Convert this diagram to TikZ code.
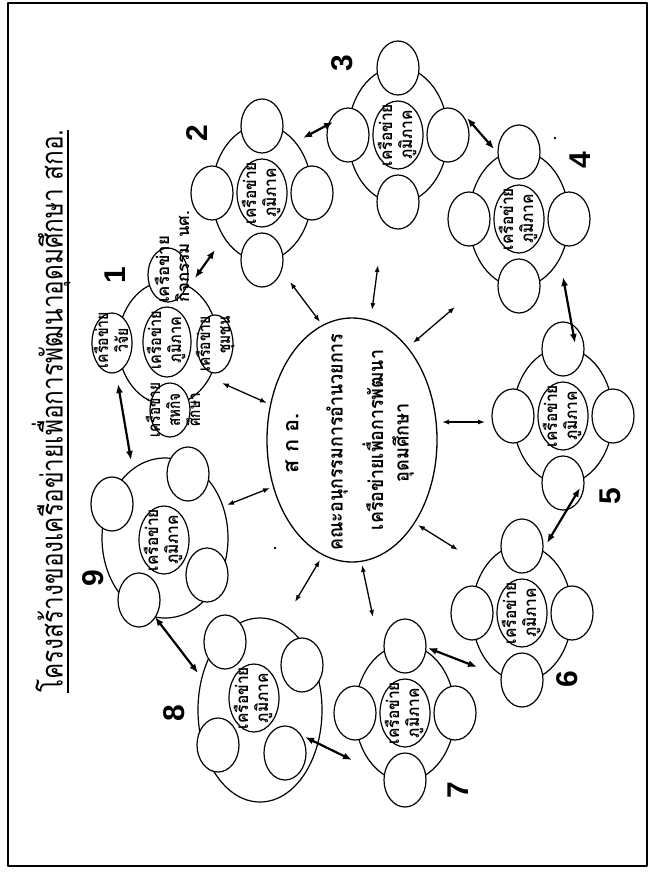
\documentclass[tikz,border=0pt]{standalone}
\usepackage{fontspec}
\usepackage{graphicx}
\newfontfamily\thaifont[Script=Thai]{Loma}
\newfontfamily\numfont{Liberation Sans}
\usetikzlibrary{arrows.meta,shapes.geometric}
\newcommand{\fitw}[2]{\resizebox{#1}{\height}{#2}}
\newcommand{\twol}[2]{\begin{tabular}{@{}c@{}}#1\\#2\end{tabular}}
\newcommand{\netlbl}{\twol{เครือข่าย}{ภูมิภาค}}
\newcommand{\stdcluster}[3]{%
  \node[outerell, minimum width=100pt, minimum height=136pt] (#1) at (#2,#3) {};
  \node[sat] (#1n) at ([yshift=67pt]#1.center) {};
  \node[sat] (#1s) at ([yshift=-67pt]#1.center) {};
  \node[sat] (#1w) at ([xshift=-50pt]#1.center) {};
  \node[sat] (#1e) at ([xshift=50pt]#1.center) {};
  \node[core] (#1c) at (#1.center) {};
  \node[rtxt] (#1t) at (#1.center) {\fitw{62pt}{\netlbl}};
}
\begin{document}
\begin{tikzpicture}[x=1pt,y=-1pt,line join=round,
  outerell/.style={draw, ellipse, line width=1.2pt, inner sep=0pt},
  sat/.style={draw, ellipse, fill=white, line width=1.2pt, inner sep=0pt, minimum width=42pt, minimum height=54pt},
  core/.style={draw, ellipse, fill=white, line width=1.2pt, inner sep=0pt, minimum width=50pt, minimum height=68pt},
  rtxt/.style={rotate=90, inner sep=0pt, font=\thaifont\bfseries\fontsize{17}{20}\selectfont},
  ctxt/.style={rotate=90, inner sep=0pt, font=\thaifont\bfseries\fontsize{20}{22}\selectfont},
  num/.style={rotate=90, inner sep=0pt, font=\numfont\bfseries\fontsize{30}{30}\selectfont},
  link/.style={line width=2.2pt, arrows={Latex[length=9pt,width=7pt]-Latex[length=9pt,width=7pt]}},
  spoke/.style={line width=1.3pt, arrows={Latex[length=7pt,width=5pt]-Latex[length=7pt,width=5pt]}}]
\useasboundingbox (0,0) rectangle (654,880);
\fill[white] (0,0) rectangle (654,880);
\draw[line width=2pt] (8,3) rectangle (647,866);

% title
\node[rotate=90, inner sep=0pt, font=\thaifont\fontsize{30}{32}\selectfont] (title) at (51,411)
  {\fitw{563pt}{โครงสร้างของเครือข่ายเพื่อการพัฒนาอุดมศึกษา สกอ.}};
\coordinate (ula) at (68,130);
\coordinate (ulb) at (68,693);
\draw[line width=1.5pt] (ula) -- (ulb);

% hub
\node[draw, ellipse, line width=1.3pt, minimum width=170pt, minimum height=244pt, inner sep=0pt] (hub) at (352,440) {};
\node[ctxt, font=\thaifont\bfseries\fontsize{22}{22}\selectfont] (h1) at (292,443) {\fitw{60pt}{ส ก อ.}};
\node[ctxt] (h2) at (337,442) {\fitw{217pt}{คณะอนุกรรมการอำนวยการ}};
\node[ctxt] (h3) at (373,440) {\fitw{180pt}{เครือข่ายเพื่อการพัฒนา}};
\node[ctxt] (h4) at (403,443) {\fitw{79pt}{อุดมศึกษา}};

% cluster 1
\node[outerell, minimum width=100pt, minimum height=124pt] (k1) at (168,343) {};
\node[sat, minimum width=40pt, minimum height=60pt] (k1w) at (112,343) {};
\node[sat, minimum width=40pt, minimum height=54pt] (k1n) at (168,275) {};
\node[sat, minimum width=40pt, minimum height=54pt] (k1s) at (170,410) {};
\node[sat, minimum width=36pt, minimum height=58pt] (k1e) at (215,344) {};
\node[core, minimum width=48pt, minimum height=70pt] (k1c) at (167,342) {};
\node[rtxt] (k1wt) at (114,340) {\fitw{56pt}{\twol{เครือข่าย}{วิจัย}}};
\node[rtxt] (k1ct) at (167,340) {\fitw{58pt}{\netlbl}};
\node[rtxt, anchor=west] (k1nt) at (175,303) {\fitw{92pt}{\begin{tabular}{@{}l@{}}เครือข่าย\\กิจกรรม นศ.\end{tabular}}};
\node[rtxt] (k1st) at (176,410) {\fitw{54pt}{\begin{tabular}{@{}c@{}}เครือข่าย\\สหกิจ\\ศึกษา\end{tabular}}};
\node[rtxt] (k1et) at (216,344) {\fitw{55pt}{\begin{tabular}{@{}r@{}}เครือข่าย\\ชุมชน\end{tabular}}};

% clusters 2-7
\stdcluster{k2}{262}{193}
\stdcluster{k3}{398}{135}
\stdcluster{k4}{519}{219}
\stdcluster{k5}{563}{416}
\stdcluster{k6}{522}{613}
\stdcluster{k7}{405}{713}

% cluster 8
\node[outerell, minimum width=124pt, minimum height=184pt] (k8) at (260,710) {};
\node[sat] (k8a) at (225,642) {};
\node[sat] (k8b) at (302,665) {};
\node[sat] (k8c) at (218,745) {};
\node[sat] (k8d) at (285,753) {};
\node[core] (k8c0) at (254,698) {};
\node[rtxt] (k8t) at (254,698) {\fitw{62pt}{\netlbl}};

% cluster 9
\node[outerell, minimum width=126pt, minimum height=160pt] (k9) at (165,538) {};
\node[sat] (k9a) at (112,504) {};
\node[sat] (k9b) at (188,474) {};
\node[sat] (k9c) at (139,600) {};
\node[sat] (k9d) at (207,575) {};
\node[core] (k9c0) at (164,540) {};
\node[rtxt] (k9t) at (164,540) {\fitw{62pt}{\netlbl}};

% numbers
\node[num] (n1) at (115,275) {1};
\node[num] (n2) at (197,133) {2};
\node[num] (n3) at (342,63) {3};
\node[num] (n4) at (580,160) {4};
\node[num] (n5) at (610,496) {5};
\node[num] (n6) at (567,679) {6};
\node[num] (n7) at (458,790) {7};
\node[num] (n8) at (174,713) {8};
\node[num] (n9) at (93,578) {9};

% links between clusters
\coordinate (a1) at (195,278); \coordinate (b1) at (215,250);
\coordinate (a2) at (303,138); \coordinate (b2) at (333,122);
\coordinate (a3) at (467,118); \coordinate (b3) at (494,149);
\coordinate (a4) at (563,277); \coordinate (b4) at (575,343);
\coordinate (a5) at (580,488); \coordinate (b5) at (547,543);
\coordinate (a6) at (428,648); \coordinate (b6) at (477,667);
\coordinate (a7) at (305,737); \coordinate (b7) at (352,760);
\coordinate (a8) at (155,617); \coordinate (b8) at (198,673);
\coordinate (a9) at (118,384); \coordinate (b9) at (131,460);
\foreach \i in {1,...,9} { \draw[link] (a\i) -- (b\i); }

% spokes from hub
\coordinate (p1) at (267,403); \coordinate (q1) at (222,383);
\coordinate (p2) at (320,322); \coordinate (q2) at (290,282);
\coordinate (p3) at (372,310); \coordinate (q3) at (378,265);
\coordinate (p4) at (413,343); \coordinate (q4) at (455,307);
\coordinate (p5) at (442,422); \coordinate (q5) at (485,422);
\coordinate (p6) at (418,525); \coordinate (q6) at (458,550);
\coordinate (p7) at (362,565); \coordinate (q7) at (373,617);
\coordinate (p8) at (320,560); \coordinate (q8) at (295,602);
\coordinate (p9) at (270,488); \coordinate (q9) at (227,505);
\foreach \i in {1,...,9} { \draw[spoke] (p\i) -- (q\i); }

% specks
\fill (275,548) circle (1.3);
\fill (555,138) circle (1.3);
\end{tikzpicture}
\end{document}
